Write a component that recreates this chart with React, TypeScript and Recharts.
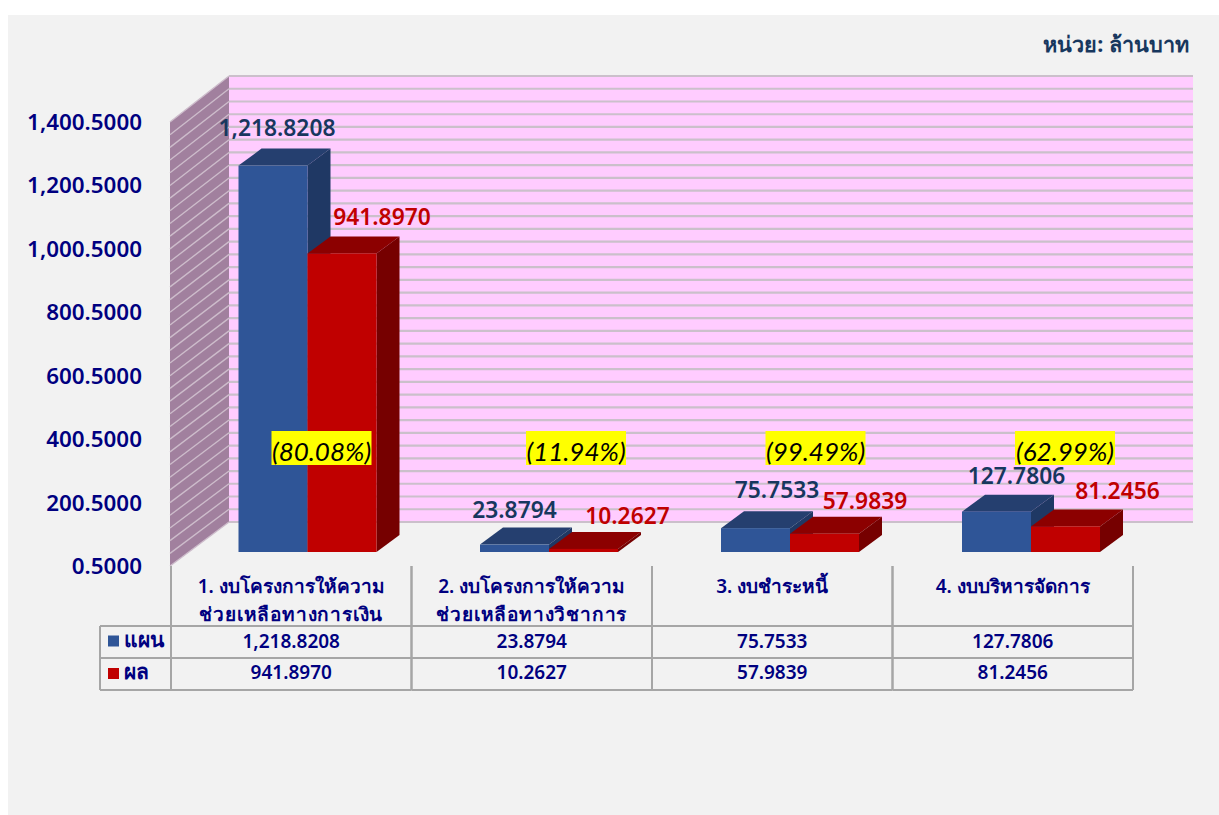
import React from 'react';
import { Bar, BarChart, CartesianGrid, LabelList, XAxis, YAxis } from 'recharts';

const categories = [
  ['1. งบโครงการให้ความ', 'ช่วยเหลือทางการเงิน'],
  ['2. งบโครงการให้ความ', 'ช่วยเหลือทางวิชาการ'],
  ['3. งบชำระหนี้'],
  ['4. งบบริหารจัดการ'],
];
const planValues = [1218.8208, 23.8794, 75.7533, 127.7806];
const resultValues = [941.897, 10.2627, 57.9839, 81.2456];
const percents = ['(80.08%)', '(11.94%)', '(99.49%)', '(62.99%)'];
const yTicks = [0.5, 200.5, 400.5, 600.5, 800.5, 1000.5, 1200.5, 1400.5];
const wallLines = Array.from({ length: 36 }, (_, i) => 0.5 + i * 40);

const data = categories.map((c, i) => ({
  name: c.join(' '),
  plan: planValues[i],
  result: resultValues[i],
}));

// layout of the fake 3D
const WALL_DX = 58;
const WALL_DY = -44;
const WALL_SCALE = 446 / 444; // back wall comes out a touch taller than the axis
const BAR_DX = 17.5;
const BAR_DY = -14;
const DEPTH_X = 23;
const DEPTH_Y = -17;
const barNudge = [-1, 0, 0.5, 1];
const planLabelNudge = [[3, -38], [0, -35], [22, -39], [21, -36]];
const resultLabelNudge = [[39, -37], [44, -33], [41, -33], [53, -36]];
const percentNudge = [30.5, 44.5, 43.5, 52.5];

const FONT = '"Noto Sans", "Open Sans", sans-serif';
const NAVY = '#000080';
const TABLE_LINE = '#a6a6a6';

const fmt = (v: number) =>
  v.toLocaleString('en-US', { minimumFractionDigits: 4, maximumFractionDigits: 4 });

const pts = (...p: number[][]) => p.map(q => q.join(',')).join(' ');

const makeBar = (front: string, top: string, side: string) => (props: any) => {
  const x = props.x + BAR_DX + barNudge[props.index];
  const y = props.y + BAR_DY;
  const { width: w, height: h } = props;
  return (
    <g>
      <polygon
        points={pts([x, y], [x + DEPTH_X, y + DEPTH_Y], [x + w + DEPTH_X, y + DEPTH_Y], [x + w, y])}
        fill={top}
      />
      <polygon
        points={pts([x + w, y], [x + w + DEPTH_X, y + DEPTH_Y], [x + w + DEPTH_X, y + h + DEPTH_Y], [x + w, y + h])}
        fill={side}
      />
      <rect x={x} y={y} width={w} height={h} fill={front} />
    </g>
  );
};

// back wall and left wall, drawn with the grid so they stay behind the bars
const wallLine = (props: any) => {
  const { x1, x2, y1, index, x, y, width, height } = props;
  const bottom = y + height;
  const backY = (v: number) => bottom + WALL_DY + (v - bottom) * WALL_SCALE;
  const frontX = x - 1;
  const backX = x + WALL_DX;
  return (
    <g key={`wall-${index}`}>
      {index === 0 && (
        <>
          <rect x={backX} y={backY(y)} width={width + 2} height={height * WALL_SCALE} fill="#ffccff" />
          <polygon
            points={pts([frontX, y], [backX, backY(y)], [backX, backY(bottom)], [frontX, bottom])}
            fill="#a1809e"
          />
        </>
      )}
      <line x1={frontX} y1={y1} x2={backX} y2={backY(y1)} stroke="#cdbccb" strokeWidth={1.4} />
      <line x1={backX} y1={backY(y1)} x2={x2 + WALL_DX + 2} y2={backY(y1)} stroke="#cbc0cb" strokeWidth={2.2} />
    </g>
  );
};

const valueLabel = (nudge: number[][], color: string) => (props: any) => {
  const { x, y, width, index, value } = props;
  return (
    <text
      x={x + width / 2 + BAR_DX + nudge[index][0]}
      y={y + BAR_DY + nudge[index][1]}
      textAnchor="middle"
      dominantBaseline="central"
      fill={color}
      fontFamily={FONT}
      fontWeight={600}
      fontSize={22.8}
    >
      {fmt(value)}
    </text>
  );
};

const percentLabel = (props: any) => {
  const { x, y, height, index } = props;
  const cx = x + percentNudge[index];
  const cy = y + height - 118;
  return (
    <g>
      <rect x={cx - 50} y={cy - 17} width={100} height={34} fill="#ffff00" />
      <text
        x={cx}
        y={cy + 3}
        textAnchor="middle"
        dominantBaseline="central"
        fill="#000"
        fontFamily="Lato, sans-serif"
        fontStyle="italic"
        fontSize={26}
      >
        {percents[index]}
      </text>
    </g>
  );
};

// category cell plus the two value rows under it
const TableTick = (props: any) => {
  const { x, y, index } = props;
  const col = 240.5;
  const left = x - col / 2;
  const right = x + col / 2;
  const lines = categories[index];
  const cell = { textAnchor: 'middle' as const, dominantBaseline: 'central' as const, fill: NAVY, fontFamily: FONT, fontWeight: 600, fontSize: 19 };
  const rowA = y + 60;
  const rowB = y + 92;
  const rowC = y + 124;
  const line = { stroke: TABLE_LINE, strokeWidth: 2 };
  return (
    <g>
      <line x1={left} y1={y} x2={left} y2={rowC} {...line} />
      <line x1={right} y1={y} x2={right} y2={rowC} {...line} />
      {[rowA, rowB, rowC].map(r => (
        <line key={r} x1={left} y1={r} x2={right} y2={r} {...line} />
      ))}
      {lines.map((t, i) => (
        <text key={t} x={x} y={y + 20 + i * 28} letterSpacing={i === 1 ? 0.8 : 0} {...cell}>{t}</text>
      ))}
      <text x={x} y={y + 75} {...cell}>{fmt(planValues[index])}</text>
      <text x={x} y={y + 106} {...cell}>{fmt(resultValues[index])}</text>
      {index === 0 && (
        <g>
          <line x1={left - 71} y1={rowA} x2={left} y2={rowA} {...line} />
          <line x1={left - 71} y1={rowB} x2={left} y2={rowB} {...line} />
          <line x1={left - 71} y1={rowC} x2={left} y2={rowC} {...line} />
          <line x1={left - 71} y1={rowA} x2={left - 71} y2={rowC} {...line} />
          <rect x={left - 63} y={y + 69.5} width={11} height={11} fill="#2f5597" />
          <rect x={left - 63} y={y + 102} width={11} height={11} fill="#c00000" />
          <text {...cell} fontSize={21} x={left - 47} y={y + 73} textAnchor="start">แผน</text>
          <text {...cell} fontSize={21} x={left - 47} y={y + 105} textAnchor="start">ผล</text>
        </g>
      )}
    </g>
  );
};

export default function App() {
  return (
    <div style={{ position: 'absolute', left: 0, top: 0, width: 1219, height: 815, background: '#fff', overflow: 'hidden' }}>
      <div style={{ position: 'absolute', left: 8, top: 15, width: 1211, height: 800, background: '#f2f2f2' }} />
      <div style={{ position: 'absolute', right: 30, top: 30, color: '#17375e', fontFamily: FONT, fontWeight: 700, fontSize: 21.6, lineHeight: '28px' }}>
        หน่วย: ล้านบาท
      </div>
      <BarChart
        style={{ position: 'absolute', left: 0, top: 0 }}
        width={1219}
        height={815}
        data={data}
        margin={{ top: 122, right: 86, bottom: 0, left: 0 }}
        barSize={69}
        barGap={0}
      >
        <CartesianGrid vertical={false} horizontal={wallLine} horizontalValues={wallLines} />
        <XAxis
          dataKey="name"
          height={249}
          interval={0}
          axisLine={false}
          tickLine={false}
          tickSize={0}
          tickMargin={0}
          tick={TableTick}
        />
        <YAxis
          width={171}
          domain={[0.5, 1400.5]}
          ticks={yTicks}
          interval={0}
          axisLine={false}
          tickLine={false}
          tickSize={0}
          tickMargin={29}
          tickFormatter={fmt}
          tick={{ fill: NAVY, fontFamily: FONT, fontWeight: 600, fontSize: 22.4 }}
        />
        <Bar dataKey="plan" isAnimationActive={false} shape={makeBar('#2f5597', '#253f6f', '#1f3864')}>
          <LabelList dataKey="plan" content={valueLabel(planLabelNudge, '#17375e')} />
        </Bar>
        <Bar dataKey="result" isAnimationActive={false} shape={makeBar('#c00000', '#8c0000', '#760000')}>
          <LabelList dataKey="result" content={valueLabel(resultLabelNudge, '#c00000')} />
          <LabelList dataKey="result" content={percentLabel} />
        </Bar>
      </BarChart>
    </div>
  );
}
